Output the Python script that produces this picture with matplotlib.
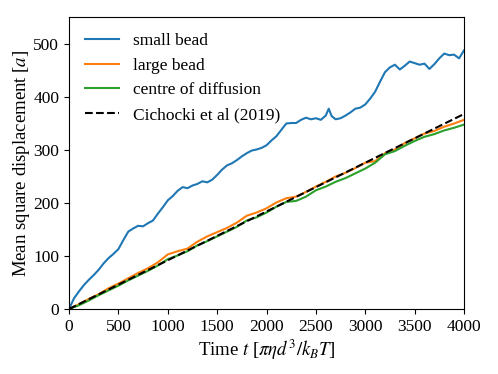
import numpy as np
import matplotlib
matplotlib.use('Agg')
import matplotlib.pyplot as plt

plt.rcParams['font.family'] = 'Liberation Serif'
plt.rcParams['mathtext.fontset'] = 'stix'
plt.rcParams['font.size'] = 12.5

# small bead MSD
t_small = [0, 50, 100, 150, 200, 250, 300, 350, 400, 450, 500, 550, 600, 650, 700, 750,
           800, 850, 900, 950, 1000, 1050, 1100, 1150, 1200, 1250, 1300, 1350, 1400, 1450,
           1500, 1550, 1600, 1650, 1700, 1750, 1800, 1850, 1900, 1950, 2000, 2050, 2100,
           2150, 2200, 2250, 2300, 2350, 2400, 2450, 2500, 2550, 2600, 2630, 2660, 2700,
           2750, 2800, 2850, 2900, 2950, 3000, 3050, 3100, 3150, 3200, 3250, 3300, 3350,
           3400, 3450, 3500, 3550, 3600, 3650, 3700, 3750, 3800, 3850, 3900, 3950, 4000]
msd_small = [0, 20, 33, 45, 55, 64, 74, 86, 96, 104, 113, 130, 146, 152, 157, 156,
             162, 167, 180, 192, 205, 213, 223, 230, 228, 233, 236, 241, 239, 244,
             253, 263, 271, 275, 281, 288, 294, 299, 301, 304, 309, 318, 326,
             338, 350, 351, 351, 357, 361, 358, 360, 357, 365, 378, 364, 358,
             360, 365, 371, 378, 380, 386, 397, 410, 429, 447, 456, 461, 452,
             459, 467, 464, 461, 463, 453, 462, 473, 482, 479, 480, 473, 488]

t_big = [0, 100, 200, 300, 400, 500, 600, 700, 800, 900, 1000, 1100, 1200, 1300, 1400,
         1500, 1600, 1700, 1800, 1900, 2000, 2100, 2200, 2300, 2400, 2500, 2600, 2700,
         2800, 2900, 3000, 3100, 3200, 3300, 3400, 3500, 3600, 3700, 3800, 3900, 4000]
msd_large = [0, 9, 19, 28, 39, 48, 58, 68, 77, 88, 103, 109, 114, 127, 137,
             145, 153, 163, 176, 182, 190, 201, 209, 212, 221, 231, 240, 250,
             257, 266, 276, 279, 294, 301, 313, 322, 331, 336, 344, 350, 357]
msd_centre = [0, 7, 16, 26, 35, 44, 54, 63, 72, 82, 94, 101, 109, 120, 128,
              137, 146, 155, 167, 173, 182, 193, 202, 204, 212, 224, 231, 240,
              247, 256, 265, 276, 292, 298, 308, 317, 325, 330, 337, 342, 348]

t_theory = [0, 4000]
msd_theory = [0, 368]

fig = plt.figure(figsize=(4.98, 3.74), dpi=100)
ax = fig.add_axes([0.1386, 0.1738, 0.7931, 0.7807])

ax.plot(t_small, msd_small, color='#1f77b4', lw=1.5, label='small bead')
ax.plot(t_big, msd_large, color='#ff7f0e', lw=1.5, label='large bead')
ax.plot(t_big, msd_centre, color='#2ca02c', lw=1.5, label='centre of diffusion')
ax.plot(t_theory, msd_theory, 'k--', lw=1.5, label='Cichocki et al (2019)')

ax.set_xlim(0, 4000)
ax.set_ylim(0, 551)
ax.set_xticks(np.arange(0, 4001, 500))
ax.set_yticks(np.arange(0, 501, 100))
ax.set_xlabel(r'Time $t$ [$\pi\eta d^3/k_BT$]', fontsize=13.5, labelpad=2)
ax.set_ylabel(r'Mean square displacement [$a$]', fontsize=13.5, labelpad=1)
ax.legend(loc='upper left', frameon=False, fontsize=12.5)

fig.savefig('out.png', dpi=100)
